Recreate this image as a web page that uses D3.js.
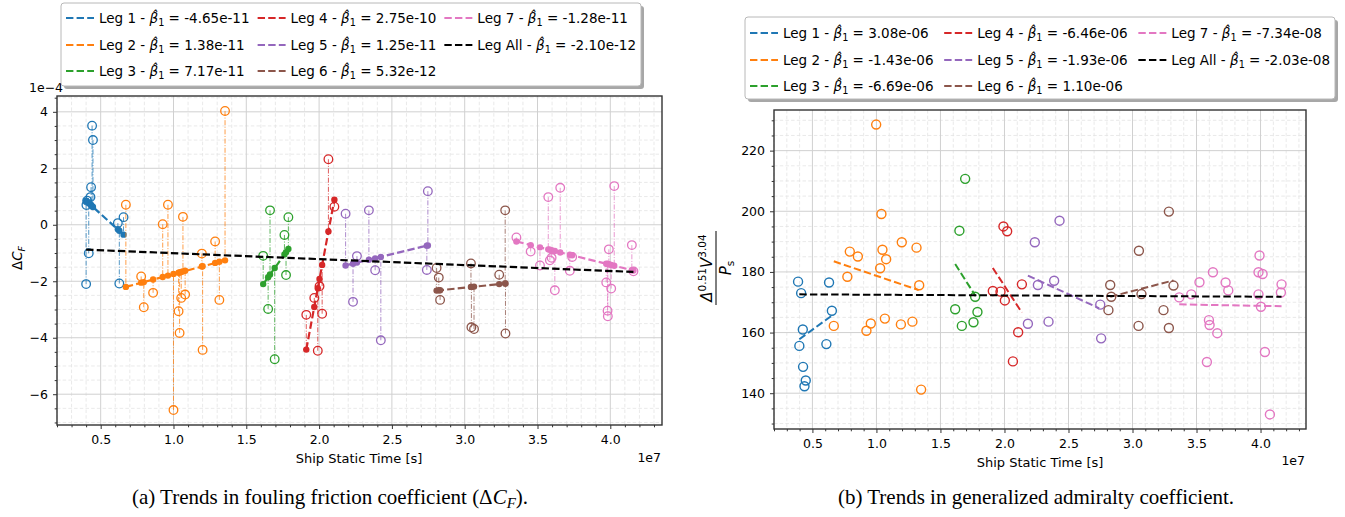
<!DOCTYPE html>
<html><head><meta charset="utf-8">
<script src="https://cdn.jsdelivr.net/npm/d3@7"></script>
<style>
body{margin:0;background:#fff;}
</style>
</head><body>
<svg id="c" width="1345" height="517"></svg>
<script>
// ---------- shared ----------
const colors = ["#1f77b4","#ff7f0e","#2ca02c","#d62728","#9467bd","#8c564b","#e377c2","#000000"];
const legNames = ["Leg 1","Leg 2","Leg 3","Leg 4","Leg 5","Leg 6","Leg 7","Leg All"];
const betaA = ["-4.65e-11","1.38e-11","7.17e-11","2.75e-10","1.25e-11","5.32e-12","-1.28e-11","-2.10e-12"];
const betaB = ["3.08e-06","-1.43e-06","-6.69e-06","-6.46e-06","-1.93e-06","1.10e-06","-7.34e-08","-2.03e-08"];
const xTicks = [0.5,1.0,1.5,2.0,2.5,3.0,3.5,4.0];
const yTicksA = [-6,-4,-2,0,2,4];
const yTicksB = [140,160,180,200,220];

// ---------- panel (a): time [1e7 s], ΔC_F [1e-4] raw and fitted ----------
const a1Time = [0.400,0.402,0.407,0.418,0.430,0.434,0.441,0.447,0.618,0.628,0.657];
const a1Raw  = [-2.10,0.70,0.85,-1.01,0.98,1.33,3.51,3.00,0.06,-2.08,0.27];
const a1Fit  = [0.85,0.84,0.82,0.77,0.71,0.69,0.66,0.63,-0.16,-0.21,-0.35];

const a2Time = [0.673,0.778,0.796,0.860,0.926,0.962,1.000,1.035,1.042,1.053,1.065,1.080,1.195,1.200,1.286,1.315,1.354];
const a2Raw  = [0.71,-1.83,-2.92,-2.41,0.02,0.71,-6.56,-3.06,-3.83,-2.59,0.28,-2.47,-1.02,-4.43,-0.59,-2.66,4.03];
const a2Fit  = [-2.20,-2.05,-2.03,-1.94,-1.85,-1.80,-1.74,-1.70,-1.69,-1.67,-1.65,-1.63,-1.48,-1.47,-1.35,-1.31,-1.26];

const a3Time = [1.616,1.650,1.663,1.695,1.762,1.773,1.789];
const a3Raw  = [-1.10,-2.98,0.51,-4.76,-0.36,-1.78,0.27];
const a3Fit  = [-2.10,-1.86,-1.76,-1.53,-1.05,-0.97,-0.86];

const a4Time = [1.912,1.967,1.991,2.003,2.021,2.064,2.105];
const a4Raw  = [-3.19,-2.59,-4.46,-2.18,-3.15,2.32,0.64];
const a4Fit  = [-4.42,-2.91,-2.25,-1.92,-1.42,-0.24,0.89];

const a5Time = [2.182,2.233,2.260,2.342,2.385,2.424,2.740,2.747];
const a5Raw  = [0.39,-2.73,-1.11,0.51,-1.61,-4.09,-1.60,1.19];
const a5Fit  = [-1.44,-1.38,-1.34,-1.24,-1.19,-1.14,-0.74,-0.73];

const a6Time = [2.807,2.822,2.831,3.043,3.046,3.064,3.237,3.278,3.280];
const a6Raw  = [-1.53,-1.87,-2.66,-1.37,-3.63,-3.69,-1.77,0.51,-3.85];
const a6Fit  = [-2.33,-2.32,-2.32,-2.20,-2.20,-2.19,-2.10,-2.08,-2.08];

const a7Time = [3.355,3.453,3.517,3.574,3.585,3.597,3.619,3.656,3.722,3.738,3.972,3.981,3.983,3.990,4.006,4.027,4.148,4.159];
const a7Raw  = [-0.45,-0.95,-1.44,0.98,-1.26,-1.17,-2.32,1.31,-1.63,-1.14,-2.04,-3.04,-3.24,-0.87,-2.26,1.37,-0.72,-1.65];
const a7Fit  = [-0.59,-0.72,-0.80,-0.87,-0.88,-0.90,-0.93,-0.98,-1.06,-1.08,-1.38,-1.39,-1.39,-1.40,-1.42,-1.45,-1.61,-1.62];

const aAllLine = [[0.400,-0.88],[4.159,-1.67]];

// ---------- panel (b): time [1e7 s], generalized admiralty coefficient ----------
const b1Time = [0.388,0.398,0.412,0.425,0.427,0.438,0.448,0.609,0.630,0.652];
const b1Val  = [176.8,155.6,173.0,161.0,148.7,142.3,144.2,156.2,176.5,167.2];
const b1Line = [[0.398,157.8],[0.652,165.6]];

const b2Time = [0.667,0.773,0.792,0.855,0.922,0.956,0.998,1.029,1.039,1.047,1.066,1.076,1.191,1.198,1.281,1.313,1.334,1.349];
const b2Val  = [162.2,178.4,186.7,185.1,160.6,163.0,228.6,181.2,199.1,187.3,164.6,184.2,162.7,189.8,163.6,188.0,175.6,141.2];
const b2Line = [[0.667,183.5],[1.330,174.0]];

const b3Time = [1.615,1.648,1.667,1.693,1.758,1.771,1.789];
const b3Val  = [167.7,193.6,162.2,210.7,163.4,171.8,166.8];
const b3Line = [[1.615,182.6],[1.775,172.0]];

const b4Time = [1.909,1.969,1.992,2.003,2.021,2.066,2.107,2.136];
const b4Val  = [173.7,173.5,195.0,170.6,193.4,150.5,160.1,175.9];
const b4Line = [[1.909,181.3],[2.136,166.6]];

const b5Time = [2.183,2.237,2.261,2.344,2.388,2.430,2.748,2.755];
const b5Val  = [162.9,189.8,175.7,163.6,177.1,196.9,169.2,158.1];
const b5Line = [[2.183,178.8],[2.740,168.0]];

const b6Time = [2.812,2.826,2.834,3.047,3.050,3.070,3.242,3.284,3.284,3.320];
const b6Val  = [167.4,175.7,171.8,162.2,187.0,172.7,167.4,199.9,161.5,175.5];
const b6Line = [[2.826,171.8],[3.320,177.2]];

const b7Time = [3.365,3.459,3.523,3.581,3.597,3.602,3.628,3.662,3.727,3.748,3.984,3.984,3.992,4.003,4.016,4.034,4.073,4.159,4.164];
const b7Val  = [171.6,172.6,176.6,150.3,164.1,162.5,179.9,159.8,176.5,173.9,179.9,172.6,185.4,168.5,179.3,153.6,133.0,173.2,175.9];
const b7Line = [[3.365,169.3],[4.164,168.7]];

const bAllLine = [[0.398,172.6],[4.164,171.8]];

// ---------- build ----------
const legsA = [[a1Time,a1Raw,a1Fit],[a2Time,a2Raw,a2Fit],[a3Time,a3Raw,a3Fit],[a4Time,a4Raw,a4Fit],
               [a5Time,a5Raw,a5Fit],[a6Time,a6Raw,a6Fit],[a7Time,a7Raw,a7Fit]]
  .map(([t,r,f]) => t.map((v,i)=>({t:v, raw:r[i], fit:f[i]})));
const legsB = [[b1Time,b1Val,b1Line],[b2Time,b2Val,b2Line],[b3Time,b3Val,b3Line],[b4Time,b4Val,b4Line],
               [b5Time,b5Val,b5Line],[b6Time,b6Val,b6Line],[b7Time,b7Val,b7Line]]
  .map(([t,v,l]) => ({pts:t.map((x,i)=>({t:x, v:v[i]})), line:l}));

const svg = d3.select("#c");
const SANS = "DejaVu Sans";
const SERIF = "Liberation Serif";
const FS = 12.5;
const DASH = "7.4,3.2";

function frame(o){
  const g = svg.append("g");
  const x = d3.scaleLinear().domain(o.xd).range([o.l, o.r]);
  const y = d3.scaleLinear().domain(o.yd).range([o.b, o.t]);
  const xMinor = d3.range(2, 44).map(i=>i/10).filter(v => Math.round(v*10)%5 !== 0);
  const yMinor = o.yMinor;
  g.append("g").selectAll("line").data(xMinor).join("line")
    .attr("x1",d=>x(d)).attr("x2",d=>x(d)).attr("y1",o.t).attr("y2",o.b)
    .attr("stroke","#e3e3e3").attr("stroke-width",0.8).attr("stroke-dasharray","3.5,2.2");
  g.append("g").selectAll("line").data(yMinor).join("line")
    .attr("y1",d=>y(d)).attr("y2",d=>y(d)).attr("x1",o.l).attr("x2",o.r)
    .attr("stroke","#e3e3e3").attr("stroke-width",0.8).attr("stroke-dasharray","3.5,2.2");
  g.append("g").selectAll("line").data(xTicks).join("line")
    .attr("x1",d=>x(d)).attr("x2",d=>x(d)).attr("y1",o.t).attr("y2",o.b)
    .attr("stroke","#d0d0d0").attr("stroke-width",1);
  g.append("g").selectAll("line").data(o.yTicks).join("line")
    .attr("y1",d=>y(d)).attr("y2",d=>y(d)).attr("x1",o.l).attr("x2",o.r)
    .attr("stroke","#d0d0d0").attr("stroke-width",1);
  const ax = g.append("g").attr("transform",`translate(0,${o.b})`)
    .call(d3.axisBottom(x).tickValues(xTicks).tickFormat(d3.format(".1f")).tickSize(4).tickPadding(6));
  const axm = g.append("g").attr("transform",`translate(0,${o.b})`)
    .call(d3.axisBottom(x).tickValues(xMinor).tickFormat("").tickSize(2.3));
  const ay = g.append("g").attr("transform",`translate(${o.l},0)`)
    .call(d3.axisLeft(y).tickValues(o.yTicks).tickFormat(o.yFmt).tickSize(4).tickPadding(5));
  const aym = g.append("g").attr("transform",`translate(${o.l},0)`)
    .call(d3.axisLeft(y).tickValues(yMinor).tickFormat("").tickSize(2.3));
  [ax,axm,ay,aym].forEach(a=>{
    a.attr("font-family",SANS).attr("font-size",FS);
    a.select(".domain").remove();
    a.selectAll(".tick line").attr("stroke","#333").attr("stroke-width",1);
    a.selectAll(".tick text").attr("fill","#000");
  });
  const plot = g.append("g");
  g.append("rect").attr("x",o.l).attr("y",o.t).attr("width",o.r-o.l).attr("height",o.b-o.t)
    .attr("fill","none").attr("stroke","#333").attr("stroke-width",1.4);
  return {x,y,plot,g};
}

function legend(o, betas){
  const g = svg.append("g").attr("transform",`translate(${o.x},${o.y})`);
  g.append("rect").attr("x",3).attr("y",3).attr("width",o.w).attr("height",o.h).attr("rx",3)
    .attr("fill","#8a8a8a").attr("opacity",0.75);
  g.append("rect").attr("x",0).attr("y",0).attr("width",o.w).attr("height",o.h).attr("rx",3)
    .attr("fill","#fff").attr("stroke","#b8b8b8").attr("stroke-width",1);
  const HL = 28, GAP = 5, PAD = 5;
  const items = legNames.map((name,i)=>{
    const col = Math.floor(i/3), row = i%3;
    const ty = o.rows[row];
    const line = g.append("line").attr("y1",ty).attr("y2",ty)
      .attr("stroke",colors[i]).attr("stroke-width",2).attr("stroke-dasharray",DASH);
    const t = g.append("text").attr("y",ty+5).attr("font-size",o.fs).attr("font-family",SANS);
    t.append("tspan").text(name+" - ");
    t.append("tspan").attr("font-style","italic").text("\u03B2\u0302");
    t.append("tspan").attr("font-size",o.fs*0.72).attr("dy",3).text("1");
    t.append("tspan").attr("dy",-3).text(" = "+betas[i]);
    return {col, line, t, w: t.node().getComputedTextLength()};
  });
  const colW = [0,1,2].map(c => HL + GAP + d3.max(items.filter(d=>d.col===c), d=>d.w));
  const cs = (o.w - 2*PAD - d3.sum(colW)) / 2;
  const colX = [PAD, PAD + colW[0] + cs, PAD + colW[0] + colW[1] + 2*cs];
  items.forEach(d=>{
    const hx = colX[d.col];
    d.line.attr("x1",hx).attr("x2",hx+HL);
    d.t.attr("x",hx+HL+GAP);
  });
}

function txt(x,y,s,size,anchor){
  return svg.append("text").attr("x",x).attr("y",y).attr("font-size",size)
    .attr("font-family",SANS).attr("text-anchor",anchor||"start").text(s);
}

// ---------------- panel (a) ----------------
const A = frame({l:57, r:662, t:96, b:425, xd:[0.2,4.355], yd:[-7.09,4.56], yTicks:yTicksA,
  yMinor: d3.range(-14,10).map(i=>i/2).filter(v=>v%2!==0),
  yFmt: d=> d<0 ? "\u2212"+Math.abs(d) : String(d)});
legsA.forEach((pts,i)=>{
  const c = colors[i], p = A.plot.append("g");
  p.selectAll("line.con").data(pts).join("line").attr("class","con")
    .attr("x1",d=>A.x(d.t)).attr("x2",d=>A.x(d.t)).attr("y1",d=>A.y(d.raw)).attr("y2",d=>A.y(d.fit))
    .attr("stroke",c).attr("stroke-width",1).attr("opacity",0.75).attr("stroke-dasharray","5,1.6,1,1.6");
  p.append("path").datum([pts[0], pts[pts.length-1]])
    .attr("d", d3.line().x(d=>A.x(d.t)).y(d=>A.y(d.fit)))
    .attr("stroke",c).attr("stroke-width",2.2).attr("fill","none").attr("stroke-dasharray",DASH);
  p.selectAll("circle.raw").data(pts).join("circle").attr("class","raw")
    .attr("cx",d=>A.x(d.t)).attr("cy",d=>A.y(d.raw)).attr("r",4.3)
    .attr("fill","none").attr("stroke",c).attr("stroke-width",1.3);
  p.selectAll("circle.fit").data(pts).join("circle").attr("class","fit")
    .attr("cx",d=>A.x(d.t)).attr("cy",d=>A.y(d.fit)).attr("r",3.2).attr("fill",c);
});
A.plot.append("path").datum(aAllLine)
  .attr("d", d3.line().x(d=>A.x(d[0])).y(d=>A.y(d[1])))
  .attr("stroke","#000").attr("stroke-width",2.2).attr("fill","none").attr("stroke-dasharray",DASH);

txt(29,92,"1e\u22124",FS);
txt(661,462,"1e7",FS,"end");
txt(359,463,"Ship Static Time [s]",13,"middle");
{
  const t = svg.append("text").attr("transform","translate(22,258) rotate(-90)")
    .attr("font-size",13.5).attr("font-family",SANS).attr("text-anchor","middle");
  t.append("tspan").text("\u0394");
  t.append("tspan").attr("font-style","italic").text("C");
  t.append("tspan").attr("font-style","italic").attr("font-size",9.5).attr("dy",3).text("F");
}
legend({x:61,y:3,w:580,h:83,rows:[15,42,68],fs:13.5}, betaA);

// ---------------- panel (b) ----------------
const B = frame({l:774, r:1306, t:110, b:429, xd:[0.2,4.355], yd:[128.2,233.4], yTicks:yTicksB,
  yMinor: d3.range(26,47).map(i=>i*5).filter(v=>v%20!==0),
  yFmt: d3.format("d")});
legsB.forEach((L,i)=>{
  const c = colors[i], p = B.plot.append("g");
  p.append("path").datum(L.line)
    .attr("d", d3.line().x(d=>B.x(d[0])).y(d=>B.y(d[1])))
    .attr("stroke",c).attr("stroke-width",2).attr("fill","none").attr("stroke-dasharray",DASH);
  p.selectAll("circle").data(L.pts).join("circle")
    .attr("cx",d=>B.x(d.t)).attr("cy",d=>B.y(d.v)).attr("r",4.5)
    .attr("fill","none").attr("stroke",c).attr("stroke-width",1.4);
});
B.plot.append("path").datum(bAllLine)
  .attr("d", d3.line().x(d=>B.x(d[0])).y(d=>B.y(d[1])))
  .attr("stroke","#000").attr("stroke-width",2).attr("fill","none").attr("stroke-dasharray",DASH);

txt(1305,465,"1e7",FS,"end");
txt(1040,467,"Ship Static Time [s]",13,"middle");
{
  const g = svg.append("g").attr("transform","translate(716,268) rotate(-90)");
  const n = g.append("text").attr("x",0).attr("y",-4).attr("font-size",15).attr("font-family",SANS).attr("text-anchor","middle");
  n.append("tspan").attr("font-style","italic").text("\u0394");
  n.append("tspan").attr("font-size",10.5).attr("dy",-6).text("0.51");
  n.append("tspan").attr("font-style","italic").attr("dy",6).text("V");
  n.append("tspan").attr("font-size",10.5).attr("dy",-6).text("3.04");
  g.append("line").attr("x1",-37).attr("x2",37).attr("y1",0).attr("y2",0).attr("stroke","#000").attr("stroke-width",1);
  const d = g.append("text").attr("x",0).attr("y",15).attr("font-size",15).attr("font-family",SANS).attr("text-anchor","middle");
  d.append("tspan").attr("font-style","italic").text("P");
  d.append("tspan").attr("font-size",10.5).attr("dy",3).text("s");
}
legend({x:745,y:17,w:590,h:82,rows:[16,43,69],fs:13.5}, betaB);

// ---------------- captions ----------------
{
  const t = svg.append("text").attr("x",330).attr("y",504).attr("font-size",21)
    .attr("font-family",SERIF).attr("text-anchor","middle");
  t.append("tspan").text("(a) Trends in fouling friction coefficient (\u0394");
  t.append("tspan").attr("font-style","italic").text("C");
  t.append("tspan").attr("font-style","italic").attr("font-size",15).attr("dy",4).text("F");
  t.append("tspan").attr("dy",-4).text(").");
  svg.append("text").attr("x",1036).attr("y",504).attr("font-size",21)
    .attr("font-family",SERIF).attr("text-anchor","middle")
    .text("(b) Trends in generalized admiralty coefficient.");
}
</script>
</body></html>
